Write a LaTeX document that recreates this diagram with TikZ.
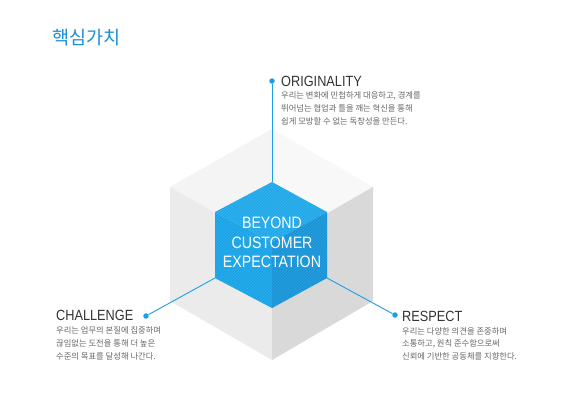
\documentclass[tikz,border=0pt]{standalone}
\usepackage{fontspec}
\usetikzlibrary{patterns}
\newfontfamily\hd[FakeStretch=0.86]{Liberation Sans}
\newfontfamily\kr{Noto Sans CJK KR}
\definecolor{ttl}{HTML}{1A8FD8}
\definecolor{lnblue}{HTML}{1D9FE5}
\definecolor{hdcol}{HTML}{333333}
\definecolor{dscol}{HTML}{666666}
\definecolor{ftopl}{HTML}{F4F4F4}
\definecolor{ftopr}{HTML}{F8F8F8}
\definecolor{fleft}{HTML}{EBEBEB}
\definecolor{fright}{HTML}{D9D9D9}
\definecolor{shl}{HTML}{CBCBCB}
\definecolor{shr}{HTML}{C2C2C2}
\definecolor{btop}{HTML}{22A9EA}
\definecolor{bleft}{HTML}{1AA4E8}
\definecolor{bright}{HTML}{1895D8}
\begin{document}
\begin{tikzpicture}[x=1pt,y=-1pt,
  heading/.style={anchor=base west,inner sep=0,text=hdcol,font=\hd\fontsize{14.8}{16}\selectfont},
  desc/.style={anchor=base west,inner sep=0,text=dscol,font=\kr\fontsize{8.3}{10}\selectfont},
  dot/.style={circle,fill=lnblue,inner sep=0,minimum size=5.5pt},
  conn/.style={draw=lnblue,line width=0.9pt},
  hatch/.style={pattern=north east lines,pattern color=white,opacity=0.10}]
\useasboundingbox (0,0) rectangle (564,392);
\fill[white] (0,0) rectangle (564,392);
% outer cube
\coordinate (oT) at (272,129);
\coordinate (oUL) at (170,187);
\coordinate (oLL) at (170,301);
\coordinate (oB) at (272,360);
\coordinate (oLR) at (373,301);
\coordinate (oUR) at (373,187);
\coordinate (oC) at (272,245);
\fill[ftopl] (oT) -- (oUL) -- (oC) -- cycle;
\fill[ftopr] (oT) -- (oC) -- (oUR) -- cycle;
\fill[fleft] (oUL) -- (oLL) -- (oB) -- (oC) -- cycle;
\fill[fright] (oC) -- (oB) -- (oLR) -- (oUR) -- cycle;
% blue cube
\coordinate (bT) at (272,182);
\coordinate (bUL) at (215,212);
\coordinate (bLL) at (215,278);
\coordinate (bB) at (272,308);
\coordinate (bLR) at (327,278);
\coordinate (bUR) at (327,212);
\coordinate (bC) at (272,242);
% shadow band
\fill[shl] (bLL) -- (bB) -- ([yshift=7]bB) -- ([yshift=6]bLL) -- cycle;
\fill[shr] (bB) -- (bLR) -- ([yshift=5]bLR) -- ([yshift=7]bB) -- cycle;
\fill[btop] (bT) -- (bUL) -- (bC) -- (bUR) -- cycle;
\fill[bleft] (bUL) -- (bLL) -- (bB) -- (bC) -- cycle;
\fill[bright] (bC) -- (bB) -- (bLR) -- (bUR) -- cycle;
\fill[hatch] (bT) -- (bUL) -- (bLL) -- (bB) -- (bLR) -- (bUR) -- cycle;
\node[inner sep=0,text=white,font=\hd\fontsize{16.5}{19.5}\selectfont,align=center] (core) at (272,242.5) {BEYOND\\CUSTOMER\\EXPECTATION};
% title
\node[anchor=base west,inner sep=0,text=ttl,font=\kr\fontsize{18.5}{21}\selectfont] (title) at (52,44.5) {핵심가치};
% dots
\node[dot] (dO) at (272,81) {};
\node[dot] (dC) at (146,316) {};
\node[dot] (dR) at (395,315) {};
\draw[conn] (dO) -- (bT);
\draw[conn] (dC) -- (bLL);
\draw[conn] (dR) -- (bLR);
% ORIGINALITY
\node[heading] (hO) at (281,86) {ORIGINALITY};
\node[desc] (o1) at (281,98) {우리는 변화에 민첩하게 대응하고, 경계를};
\node[desc] (o2) at (281,111.5) {뛰어넘는 협업과 틀을 깨는 혁신을 통해};
\node[desc] (o3) at (281,124.5) {쉽게 모방할 수 없는 독창성을 만든다.};
% CHALLENGE
\node[heading] (hC) at (56,320.5) {CHALLENGE};
\node[desc] (c1) at (56,333.5) {우리는 업무의 본질에 집중하며};
\node[desc] (c2) at (56,346.5) {끊임없는 도전을 통해 더 높은};
\node[desc] (c3) at (56,359) {수준의 목표를 달성해 나간다.};
% RESPECT
\node[heading] (hR) at (402,321) {RESPECT};
\node[desc] (r1) at (402,334) {우리는 다양한 의견을 존중하며};
\node[desc] (r2) at (402,346.5) {소통하고, 원칙 준수함으로써};
\node[desc] (r3) at (402,359) {신뢰에 기반한 공동체를 지향한다.};
\end{tikzpicture}
\end{document}
